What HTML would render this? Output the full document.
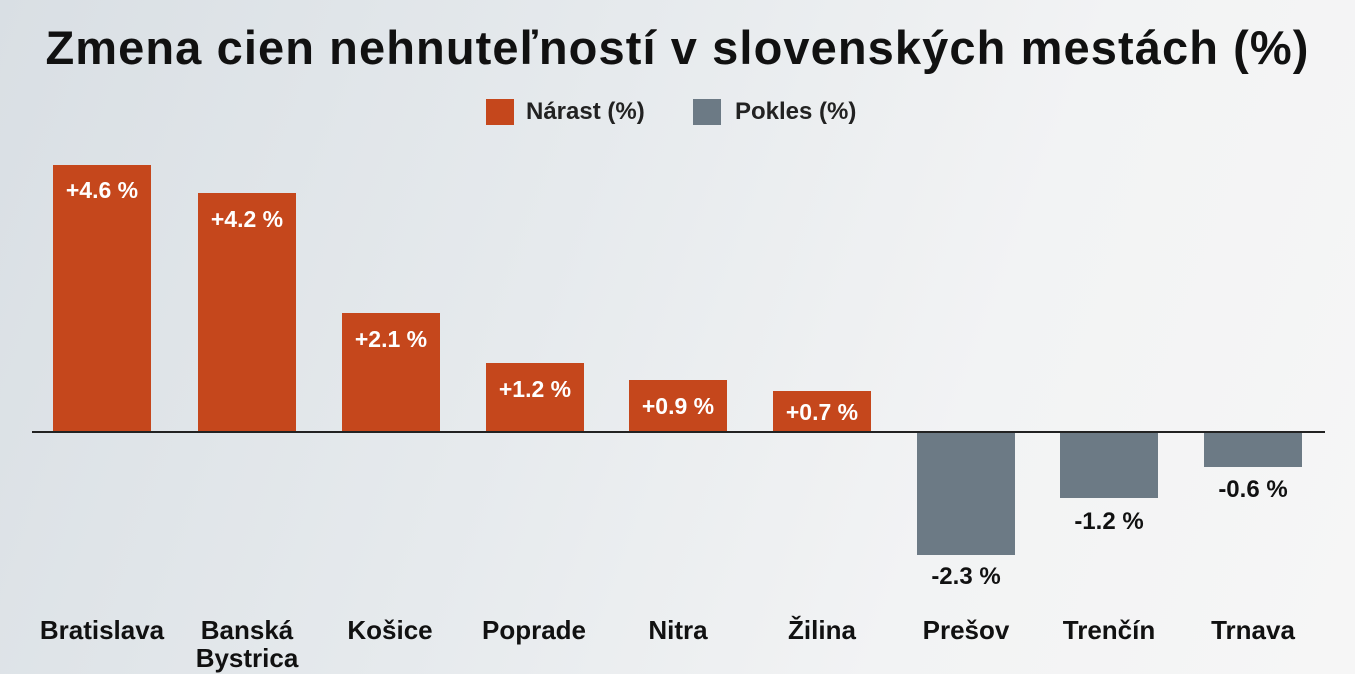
<!DOCTYPE html>
<html><head><meta charset="utf-8"><style>
body{margin:0;width:1355px;height:674px;overflow:hidden;font-family:"Liberation Sans",sans-serif;
background:linear-gradient(110deg,#d9dfe4 0%,#e6eaed 40%,#f2f3f4 70%,#f6f6f6 100%);position:relative}
.t{position:absolute;left:0;width:1355px;text-align:center;top:20px;font-size:47px;font-weight:bold;color:#111;letter-spacing:1.1px;white-space:nowrap}
.b{position:absolute;width:98px}
.o{background:#c5471c}.g{background:#6c7a85}
.v{position:absolute;width:98px;text-align:center;font-weight:bold;font-size:23px;color:#fff;white-space:nowrap}
.n{position:absolute;width:140px;text-align:center;font-weight:bold;font-size:24px;color:#111}
.c{position:absolute;width:160px;text-align:center;font-weight:bold;font-size:26px;color:#111;line-height:28px;top:616px}
.ax{position:absolute;left:32px;width:1293px;top:431px;height:2px;background:#222}
.lg{position:absolute;top:98px;font-size:24px;font-weight:bold;color:#222}
.sw{position:absolute;top:99px;width:28px;height:26px}
</style></head><body>
<div class="t">Zmena cien nehnuteľností v slovenských mestách (%)</div>
<div class="sw o" style="left:486px"></div><div class="lg" style="left:526px">Nárast (%)</div>
<div class="sw g" style="left:693px"></div><div class="lg" style="left:735px">Pokles (%)</div>

<div class="b o" style="left:53px;top:165px;height:267px"></div><div class="v" style="left:53px;top:177px">+4.6 %</div>
<div class="b o" style="left:198px;top:193px;height:239px"></div><div class="v" style="left:198px;top:206px">+4.2 %</div>
<div class="b o" style="left:342px;top:313px;height:119px"></div><div class="v" style="left:342px;top:326px">+2.1 %</div>
<div class="b o" style="left:486px;top:363px;height:69px"></div><div class="v" style="left:486px;top:376px">+1.2 %</div>
<div class="b o" style="left:629px;top:380px;height:52px"></div><div class="v" style="left:629px;top:393px">+0.9 %</div>
<div class="b o" style="left:773px;top:391px;height:41px"></div><div class="v" style="left:773px;top:399px">+0.7 %</div>
<div class="b g" style="left:917px;top:432px;height:123px"></div><div class="n" style="left:896px;top:563px">-2.3 %</div>
<div class="b g" style="left:1060px;top:432px;height:66px"></div><div class="n" style="left:1039px;top:508px">-1.2 %</div>
<div class="b g" style="left:1204px;top:432px;height:35px"></div><div class="n" style="left:1183px;top:476px">-0.6 %</div>
<div class="ax"></div>

<div class="c" style="left:22px">Bratislava</div>
<div class="c" style="left:167px">Banská<br>Bystrica</div>
<div class="c" style="left:310px">Košice</div>
<div class="c" style="left:454px">Poprade</div>
<div class="c" style="left:598px">Nitra</div>
<div class="c" style="left:742px">Žilina</div>
<div class="c" style="left:886px">Prešov</div>
<div class="c" style="left:1029px">Trenčín</div>
<div class="c" style="left:1173px">Trnava</div>
</body></html>
